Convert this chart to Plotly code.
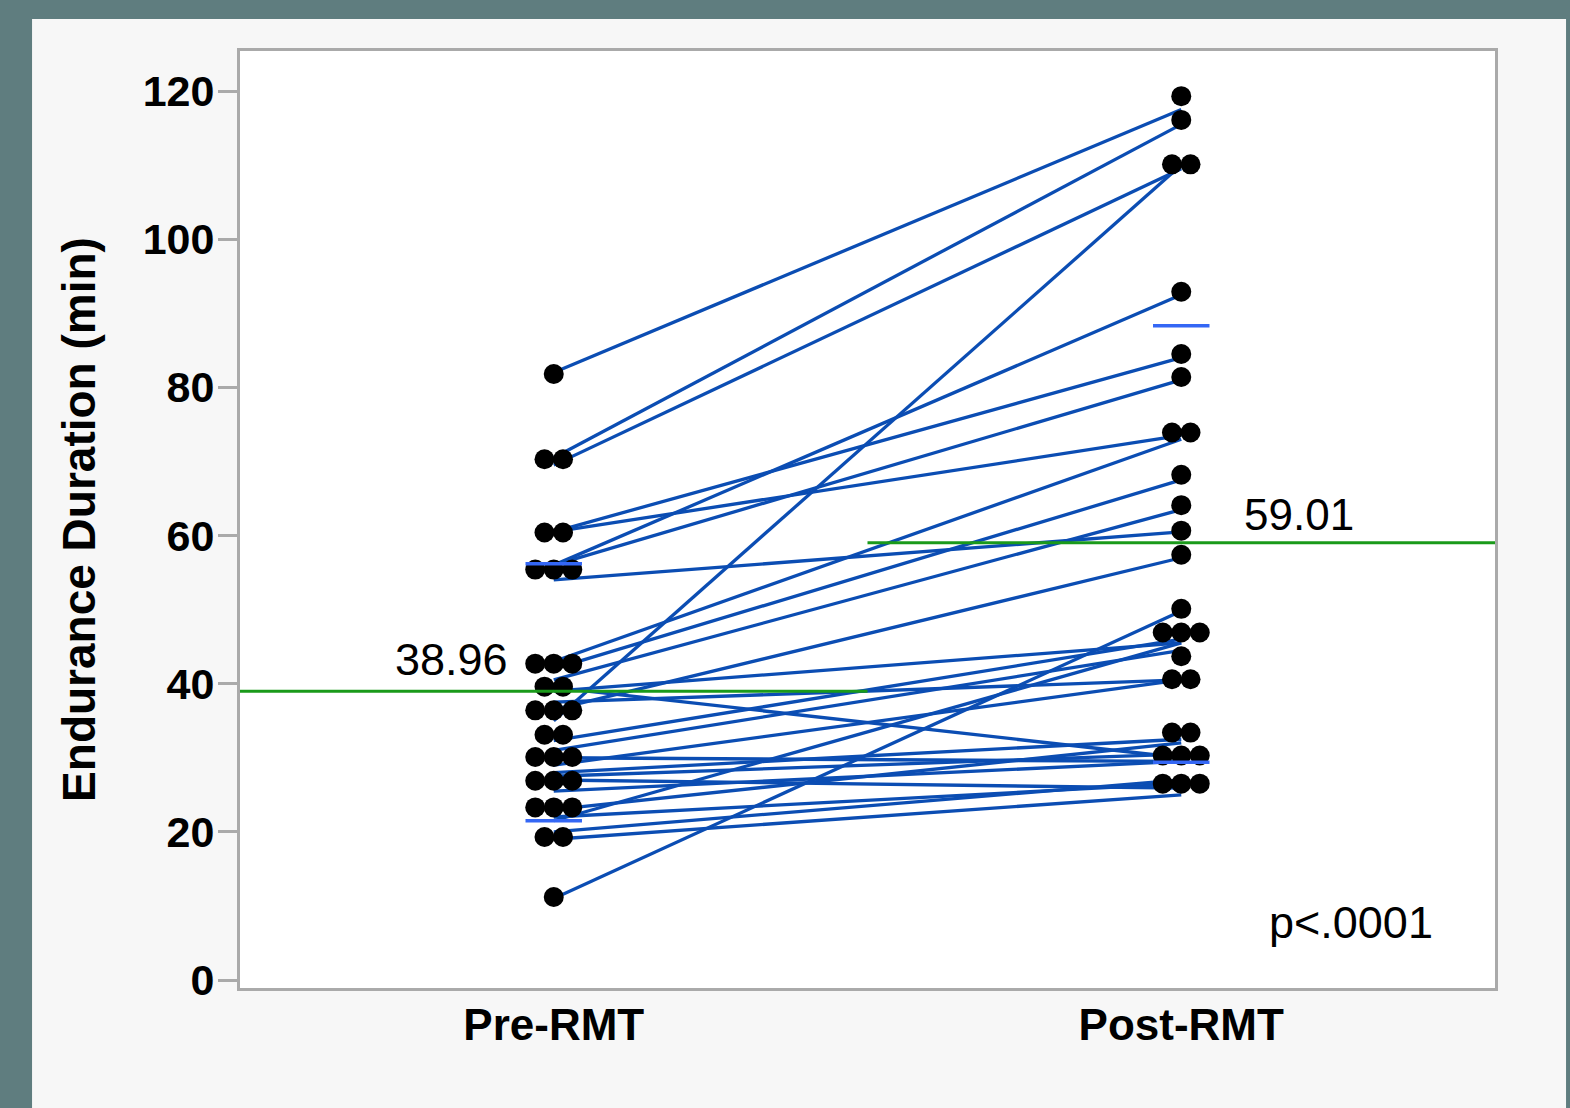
import plotly.graph_objects as go

# ---------------- data ----------------
categories = ["Pre-RMT", "Post-RMT"]

pre_values = [82, 70.5, 69.5, 60.5, 60.5, 56, 56, 54, 35, 11,
              43, 42, 40.5, 39, 39.5, 37.5, 36.5, 32.3, 31, 30,
              29, 28, 27.5, 25.5, 23, 21.5, 22, 20, 19, 27]
post_values = [117.5, 115.5, 109.5, 84, 73.5, 92.5, 81, 60.5, 110, 49.8,
               73, 67.5, 63.5, 45.5, 30, 40.5, 57, 46, 44.5, 29.5,
               40.5, 32.5, 30.5, 29.5, 32, 45.5, 26.5, 27, 25, 25.9]

pre_dot_levels = [81.8, 70.3, 60.4, 55.4, 42.7, 39.6, 36.4, 33.1, 30.1, 26.9, 23.3, 19.3, 11.2]
pre_dot_counts = [1, 2, 2, 3, 3, 2, 3, 2, 3, 3, 3, 2, 1]
post_dot_levels = [119.3, 116.1, 110.1, 92.9, 84.5, 81.4, 73.9, 68.2, 64.1, 60.65,
                   57.4, 50.1, 46.9, 43.7, 40.6, 33.4, 30.3, 26.5]
post_dot_counts = [1, 1, 2, 1, 1, 1, 2, 1, 1, 1, 1, 1, 3, 1, 2, 2, 3, 3]

group_means = [38.96, 59.01]
pre_quantile_marks = [56.2, 21.5]
post_quantile_marks = [88.3, 29.4]
p_text = "p<.0001"

y_ticks = [0, 20, 40, 60, 80, 100, 120]

# ---------------- styling ----------------
FONT = "Liberation Sans, Arial, Helvetica, sans-serif"
LINE_COLOR = "#0b4db3"
MEAN_COLOR = "#1a9a1a"
QUANT_COLOR = "#3467f5"
FRAME = "#aaaaaa"
DOT_STEP = 0.0295
QUANT_HALF = 0.045

fig = go.Figure()

# paired lines
lx, ly = [], []
for a, b in zip(pre_values, post_values):
    lx += [0, 1, None]
    ly += [a, b, None]
fig.add_trace(go.Scatter(x=lx, y=ly, mode="lines",
                         line=dict(color=LINE_COLOR, width=3.3),
                         hoverinfo="skip", showlegend=False))

# dot stacks
def dot_xy(center, levels, counts):
    xs, ys = [], []
    for lev, n in zip(levels, counts):
        for i in range(n):
            xs.append(center + (i - (n - 1) / 2) * DOT_STEP)
            ys.append(lev)
    return xs, ys

px, py = dot_xy(0, pre_dot_levels, pre_dot_counts)
qx, qy = dot_xy(1, post_dot_levels, post_dot_counts)
fig.add_trace(go.Scatter(x=px + qx, y=py + qy, mode="markers",
                         marker=dict(color="black", size=20, line=dict(width=0)),
                         showlegend=False))

# group mean lines
for i, m in enumerate(group_means):
    fig.add_trace(go.Scatter(x=[i - 0.5, i + 0.5], y=[m, m], mode="lines",
                             line=dict(color=MEAN_COLOR, width=3),
                             showlegend=False, hoverinfo="skip"))

# quantile marks
for i, marks in enumerate([pre_quantile_marks, post_quantile_marks]):
    mx, my = [], []
    for v in marks:
        mx += [i - QUANT_HALF, i + QUANT_HALF, None]
        my += [v, v, None]
    fig.add_trace(go.Scatter(x=mx, y=my, mode="lines",
                             line=dict(color=QUANT_COLOR, width=3.5),
                             showlegend=False, hoverinfo="skip"))

# annotations
fig.add_annotation(x=-0.07, y=group_means[0] + 4.3, xref="x", yref="y",
                   text=f"{group_means[0]:.2f}", showarrow=False,
                   xanchor="right", yanchor="middle",
                   font=dict(family=FONT, size=45, color="black"))
fig.add_annotation(x=1.097, y=group_means[1] + 3.8, xref="x", yref="y",
                   text=f"{group_means[1]:.2f}", showarrow=False,
                   xanchor="left", yanchor="middle",
                   font=dict(family=FONT, size=44, color="black"))
fig.add_annotation(x=1.136, y=7.8, xref="x", yref="y",
                   text=p_text, showarrow=False,
                   xanchor="left", yanchor="middle",
                   font=dict(family=FONT, size=45, color="black"))

# background panels
fig.add_shape(type="rect", xref="paper", yref="paper",
              x0=-0.1657, x1=1.0566, y0=-0.2, y1=1.0342,
              fillcolor="#f7f7f7", line=dict(width=0), layer="below")
fig.add_shape(type="rect", xref="paper", yref="paper",
              x0=0, x1=1, y0=0, y1=1,
              fillcolor="white", line=dict(width=0), layer="below")

fig.update_layout(
    width=1570, height=1108,
    margin=dict(l=240, r=75, t=51, b=120),
    paper_bgcolor="#5f7d7f",
    plot_bgcolor="white",
    font=dict(family=FONT, color="black"),
    showlegend=False,
)
fig.update_xaxes(
    range=[-0.5, 1.5], tickvals=[0, 1], ticktext=categories,
    tickfont=dict(family=FONT, size=44, color="black", weight="bold"),
    ticks="", ticklabelstandoff=-4,
    showline=True, mirror=True, linecolor=FRAME, linewidth=3,
    showgrid=False, zeroline=False,
)
fig.update_yaxes(
    range=[-1.08, 125.4], tickvals=y_ticks,
    tickfont=dict(family=FONT, size=43, color="black", weight="bold"),
    ticks="outside", ticklen=19, tickwidth=3, tickcolor=FRAME,
    ticklabelstandoff=-5,
    showline=True, mirror=True, linecolor=FRAME, linewidth=3,
    showgrid=False, zeroline=False,
    title=dict(text="Endurance Duration (min)", standoff=33,
               font=dict(family=FONT, size=46, color="black", weight="bold")),
)

fig.write_html("out.html", config={"displayModeBar": False},
               post_script="document.body.style.margin='0';document.body.style.overflow='hidden';")
